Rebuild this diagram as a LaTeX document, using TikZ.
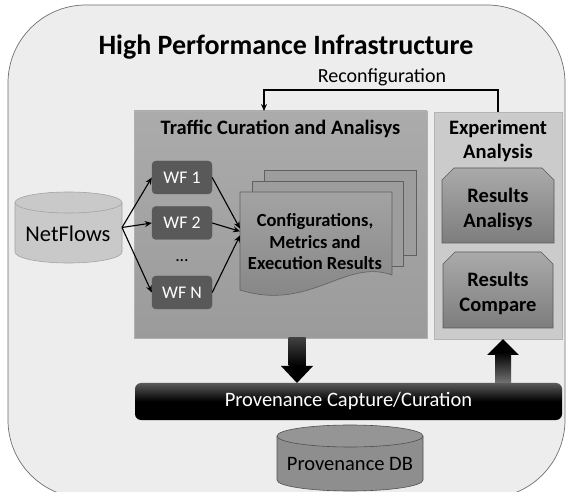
\documentclass[tikz,border=0pt]{standalone}
\usepackage{fontspec}
\setmainfont{Carlito}
\usetikzlibrary{arrows.meta}
\definecolor{outerfill}{HTML}{EDEDED}
\definecolor{outerdraw}{HTML}{707070}
\definecolor{tcatop}{HTML}{ABABAB}
\definecolor{tcabot}{HTML}{9B9B9B}
\definecolor{tcadraw}{HTML}{B0B0B0}
\definecolor{expfill}{HTML}{CBCBCB}
\definecolor{expdraw}{HTML}{B4B4B4}
\definecolor{restop}{HTML}{AAAAAA}
\definecolor{resbot}{HTML}{7D7D7D}
\definecolor{resdraw}{HTML}{5A5A5A}
\definecolor{wffill}{HTML}{595959}
\definecolor{doctop}{HTML}{A3A3A3}
\definecolor{docbot}{HTML}{838383}
\definecolor{docback}{HTML}{9D9D9D}
\definecolor{docdraw}{HTML}{606060}
\definecolor{nffill}{HTML}{C9C9C9}
\definecolor{nfdraw}{HTML}{A3A3A3}
\definecolor{dbfill}{HTML}{8E8E8E}
\definecolor{dbtop}{HTML}{959595}
\definecolor{dbdraw}{HTML}{505050}
\definecolor{provtop}{HTML}{5A5A5A}
\newcommand{\mlines}[1]{\begin{tabular}[t]{@{}c@{}}#1\end{tabular}}
\begin{document}
\begin{tikzpicture}[x=1pt,y=-1pt,
  fbold/.style={font=\fontsize{20.5}{24}\selectfont\bfseries},
  freg/.style={font=\fontsize{20.5}{24}\selectfont},
  hidden/.style={inner sep=0pt,outer sep=0pt},
  wfbox/.style={fill=wffill,draw=wffill,rounded corners=4pt,minimum width=60pt,
    minimum height=33pt,inner sep=0pt,text=white,font=\fontsize{17.8}{20}\selectfont},
  conn/.style={draw=black,line width=1.1pt,-{Stealth[length=7pt,width=6pt]}},
  bigdown/.style={line width=17pt,-{Triangle[width=31pt,length=17pt]}},
  bigup/.style={line width=16pt,-{Triangle[width=31pt,length=16pt]}}]
\path[use as bounding box] (0,0) rectangle (566,492);
\fill[white] (0,0) rectangle (566,492);
\draw[draw=outerdraw,fill=outerfill,line width=0.7pt,rounded corners=78pt] (8,5) rectangle (565,498);

\node[anchor=base,font=\fontsize{28}{32}\selectfont\bfseries] (title) at (286,55) {High Performance Infrastructure};
\node[anchor=base,font=\fontsize{20}{24}\selectfont] (reclab) at (382,83) {Reconfiguration};

% containers
\node[hidden,draw=tcadraw,line width=0.6pt,top color=tcatop,bottom color=tcabot,
  minimum width=293pt,minimum height=227pt] (tca) at (280.5,224.5) {};
\node[anchor=base,fbold] (tcat) at (280.5,135) {Traffic Curation and Analisys};
\node[hidden,draw=expdraw,line width=0.6pt,fill=expfill,
  minimum width=128pt,minimum height=227pt] (exp) at (498,225.5) {};
\node[anchor=base,fbold] (expt) at (498,135) {\mlines{Experiment\\Analysis}};

% results boxes
\path[draw=resdraw,line width=0.6pt,top color=restop,bottom color=resbot]
  (442,180) -- (454,168) -- (542,168) -- (554,180) -- (554,243) -- (442,243) -- cycle;
\node[anchor=base,font=\fontsize{20.5}{25}\selectfont\bfseries] (ra) at (498,203) {\mlines{Results\\Analisys}};
\path[draw=resdraw,line width=0.6pt,top color=restop,bottom color=resbot]
  (443,264) -- (455,252) -- (541,252) -- (553,264) -- (553,328) -- (443,328) -- cycle;
\node[anchor=base,font=\fontsize{20.5}{25}\selectfont\bfseries] (rc) at (498,287) {\mlines{Results\\Compare}};

% NetFlows cylinder
\path[draw=nfdraw,fill=nffill,line width=0.6pt] (15,202.5) -- (15,252)
  .. controls (15,258.1) and (39,263) .. (68.5,263)
  .. controls (98,263) and (122,258.1) .. (122,252) -- (122,202.5);
\draw[draw=nfdraw,fill=nffill,line width=0.6pt] (68.5,202.5) ellipse [x radius=53.5pt,y radius=10.5pt];
\node[hidden,minimum width=107pt,minimum height=71pt] (nfc) at (68.5,227.5) {};
\node[anchor=base,font=\fontsize{22.5}{26}\selectfont] (nft) at (68,242) {NetFlows};

% workflows
\node[wfbox] (wf1) at (182,177.5) {WF 1};
\node[wfbox] (wf2) at (182,223) {WF 2};
\node[wfbox] (wfN) at (182,292.5) {WF N};
\node[anchor=base,font=\fontsize{17.8}{20}\selectfont] (dots) at (182,262) {...};

% documents
\path[draw=docdraw,fill=docback,line width=0.6pt] (264,170) rectangle (416,255);
\path[draw=docdraw,fill=docback,line width=0.6pt] (252,181) rectangle (403,266);
\path[draw=docdraw,line width=0.6pt,top color=doctop,bottom color=docbot]
  (240,192) -- (392,192) -- (392,275) .. controls (345,258) and (310,312) .. (240,290) -- cycle;
\node[hidden,minimum width=152pt,minimum height=100pt] (doc) at (316,242) {};
\node[anchor=base,font=\fontsize{18.5}{21.5}\selectfont\bfseries] (doct) at (315,227)
  {\mlines{Configurations,\\Metrics and\\Execution Results}};

% thin connectors
\draw[conn] (nfc.east) -- (wf1.west);
\draw[conn] (nfc.east) -- (wf2.west);
\draw[conn] (nfc.east) -- (wfN.west);
\draw[conn] (wf1.east) -- (doc.170);
\draw[conn] (wf2.east) -- (doc.172);
\draw[conn] (wfN.east) -- (doc.175);
\coordinate (rcl) at (264,90);
\draw[conn] (exp.north) |- (rcl) -- (rcl |- tca.north);

% provenance bar
\node[hidden,rounded corners=6pt,top color=provtop,bottom color=black,middle color=black,
  minimum width=427pt,minimum height=37pt,text=white,freg] (prov) at (348.5,401.5) {Provenance Capture/Curation};

% big arrows
\coordinate (dax) at (297,0);
\coordinate (uax) at (503,0);
\draw[bigdown] (dax |- tca.south) -- (dax |- prov.north);
\shade[top color=black!75,bottom color=black] (288.5,338) rectangle (305.5,366);
\draw[bigup] (uax |- prov.north) -- (uax |- exp.south);
\shade[top color=black,bottom color=black!55] (495,352) rectangle (511,383);

% Provenance DB cylinder
\path[draw=dbdraw,fill=dbfill,line width=0.6pt] (277,436) -- (277,480)
  .. controls (277,486.1) and (309.7,491) .. (350,491)
  .. controls (390.3,491) and (423,486.1) .. (423,480) -- (423,436);
\draw[draw=dbdraw,fill=dbtop,line width=0.6pt] (350,436) ellipse [x radius=73pt,y radius=11pt];
\node[hidden,minimum width=146pt,minimum height=66pt] (dbc) at (350,458) {};
\node[anchor=base,freg] (dbt) at (350,471) {Provenance DB};
\end{tikzpicture}
\end{document}
